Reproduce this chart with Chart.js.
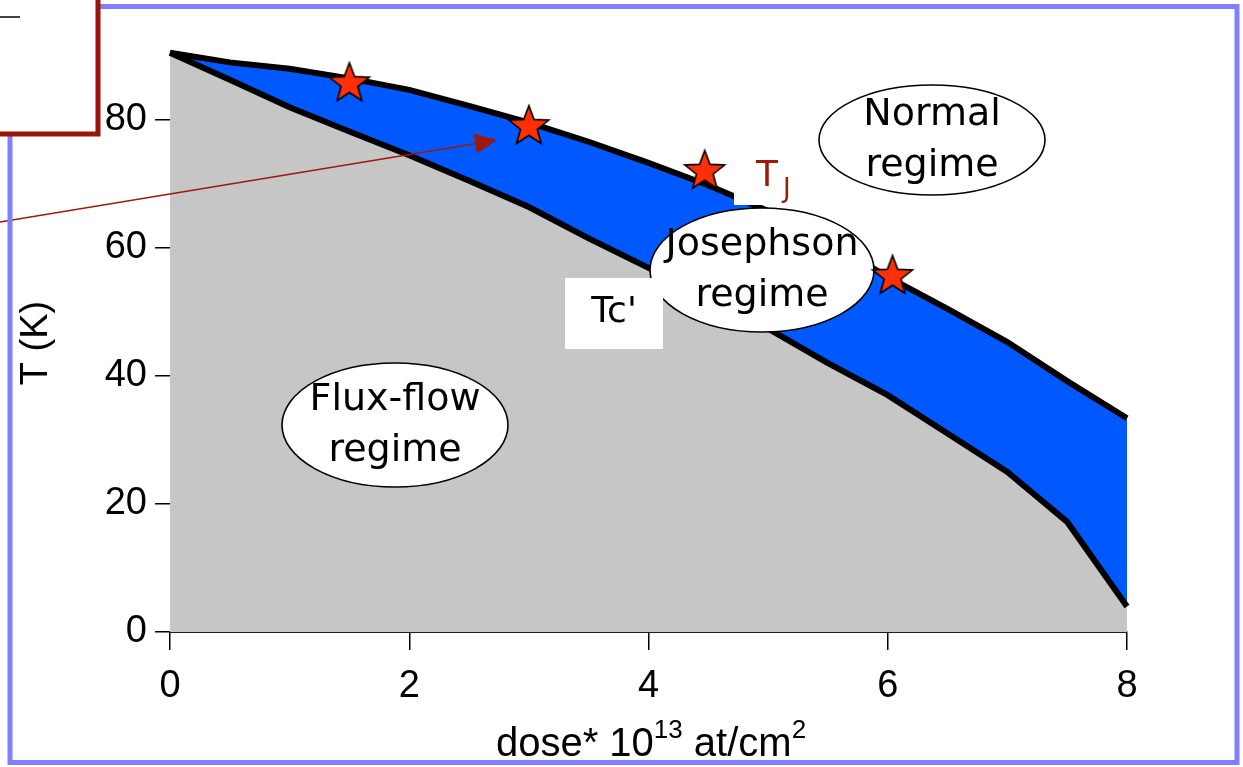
<!DOCTYPE html>
<html>
<head>
<meta charset="utf-8">
<script src="https://cdn.jsdelivr.net/npm/chart.js@4.4.1/dist/chart.umd.min.js"></script>
<style>
  html, body { margin: 0; padding: 0; background: #fff; }
  #wrap { width: 1243px; height: 767px; position: relative; }
</style>
</head>
<body>
<div id="wrap"><canvas id="phaseChart" width="1243" height="767"></canvas></div>
<script>
// dose in units of 10^13 at/cm^2
const dose = [0, 0.5, 1, 1.5, 2, 2.5, 3, 3.5, 4, 4.5, 5, 5.5, 6, 6.5, 7, 7.5, 8];
// T_J : upper boundary (Josephson -> normal)
const tJ = [90.5, 89, 88, 86.5, 84.7, 82.2, 79.6, 76.6, 73.3, 69.8, 65.8, 61, 55.5, 50.5, 45.3, 39.2, 33.4];
// Tc' : lower boundary (flux-flow -> Josephson)
const tcPrime = [90.5, 86.3, 82, 78.2, 74.5, 70.5, 66.4, 61.5, 56.9, 52.2, 47.4, 42, 37, 31, 25, 17.2, 4];
// measured points (stars)
const starDose = [1.5, 3.0, 4.47, 6.04];
const starT = [85.9, 79.2, 72.2, 55.8];

const xTicks = [0, 2, 4, 6, 8];
const yTicks = [0, 20, 40, 60, 80];

const textFont = '"DejaVu Sans", sans-serif';

function makeStar(r) {
    const c = document.createElement('canvas');
    const s = Math.ceil(r * 2 + 4);
    c.width = s; c.height = s;
    const g = c.getContext('2d');
    g.translate(s / 2, s / 2 + 1.5);
    g.beginPath();
    for (let i = 0; i < 10; i++) {
        const rad = i % 2 === 0 ? r : r * 0.42;
        const a = -Math.PI / 2 + i * Math.PI / 5;
        g.lineTo(rad * Math.cos(a), rad * Math.sin(a));
    }
    g.closePath();
    g.fillStyle = '#ff3008';
    g.fill();
    g.lineWidth = 1.6;
    g.strokeStyle = '#000';
    g.stroke();
    return c;
}

function ellipseLabel(ctx, cx, cy, rx, ry, lines) {
    ctx.save();
    ctx.beginPath();
    ctx.ellipse(cx, cy, rx, ry, 0, 0, Math.PI * 2);
    ctx.fillStyle = '#fff';
    ctx.fill();
    ctx.lineWidth = 1.6;
    ctx.strokeStyle = '#000';
    ctx.stroke();
    ctx.fillStyle = '#000';
    ctx.font = '38px ' + textFont;
    ctx.textAlign = 'center';
    ctx.textBaseline = 'middle';
    ctx.fillText(lines[0], cx, cy - 25);
    ctx.fillText(lines[1], cx, cy + 26);
    ctx.restore();
}

const overlayPlugin = {
    id: 'overlay',
    afterDatasetDraw(chart, args) {
        if (args.index !== 0) return;
        const ctx = chart.ctx;
        // white box behind T_J label
        ctx.save();
        ctx.fillStyle = '#fff';
        ctx.fillRect(734, 128, 88, 77);
        ctx.restore();
        ellipseLabel(ctx, 932, 140, 113, 55, ['Normal', 'regime']);
        ellipseLabel(ctx, 762, 270, 112, 62, ['Josephson', 'regime']);
        ellipseLabel(ctx, 395, 425, 113, 62, ['Flux-flow', 'regime']);
        // Tc' label box
        ctx.save();
        ctx.fillStyle = '#fff';
        ctx.fillRect(565, 278, 98, 71);
        ctx.fillStyle = '#000';
        ctx.font = '36px ' + textFont;
        ctx.textAlign = 'center';
        ctx.textBaseline = 'middle';
        ctx.fillText("Tc'", 614, 313);
        // T_J label
        ctx.fillStyle = '#9b1a0a';
        ctx.font = '36px ' + textFont;
        ctx.textAlign = 'left';
        ctx.textBaseline = 'alphabetic';
        ctx.fillText('T', 756, 186);
        ctx.font = '26px ' + textFont;
        ctx.fillText('J', 783, 197);
        ctx.restore();
    },
    afterDraw(chart) {
        const ctx = chart.ctx;
        ctx.save();
        // arrow
        ctx.strokeStyle = '#9b1a0a';
        ctx.fillStyle = '#9b1a0a';
        ctx.lineWidth = 1.6;
        const x0 = 0, y0 = 222, x1 = 497, y1 = 140;
        const ang = Math.atan2(y1 - y0, x1 - x0);
        ctx.beginPath();
        ctx.moveTo(x0, y0);
        ctx.lineTo(x1 - 18 * Math.cos(ang), y1 - 18 * Math.sin(ang));
        ctx.stroke();
        ctx.beginPath();
        ctx.moveTo(x1, y1);
        ctx.lineTo(x1 - 22 * Math.cos(ang) + 10 * Math.sin(ang), y1 - 22 * Math.sin(ang) - 10 * Math.cos(ang));
        ctx.lineTo(x1 - 22 * Math.cos(ang) - 10 * Math.sin(ang), y1 - 22 * Math.sin(ang) + 10 * Math.cos(ang));
        ctx.closePath();
        ctx.fill();

        // outer frame
        ctx.strokeStyle = '#8080ff';
        ctx.lineWidth = 5;
        ctx.strokeRect(10, 6.5, 1227, 756);

        // red box in the corner
        ctx.fillStyle = '#fff';
        ctx.fillRect(-10, -10, 108, 144);
        ctx.strokeStyle = '#9b1408';
        ctx.lineWidth = 5;
        ctx.strokeRect(-10, -10, 108, 144);
        ctx.strokeStyle = '#000';
        ctx.lineWidth = 1.5;
        ctx.beginPath();
        ctx.moveTo(0, 17);
        ctx.lineTo(20, 17);
        ctx.stroke();

        // y axis title
        ctx.fillStyle = '#000';
        ctx.save();
        ctx.translate(37, 343);
        ctx.rotate(-Math.PI / 2);
        ctx.font = '38px "Liberation Sans", sans-serif';
        ctx.textAlign = 'center';
        ctx.textBaseline = 'middle';
        ctx.fillText('T (K)', 0, 0);
        ctx.restore();

        // x axis title with superscripts
        const parts = [
            ['dose* 10', 40, 0],
            ['13', 26, -18],
            [' at/cm', 40, 0],
            ['2', 26, -18]
        ];
        let total = 0;
        parts.forEach(p => {
            ctx.font = p[1] + 'px "Liberation Sans", sans-serif';
            total += ctx.measureText(p[0]).width;
        });
        let x = 651 - total / 2;
        ctx.textAlign = 'left';
        ctx.textBaseline = 'alphabetic';
        parts.forEach(p => {
            ctx.font = p[1] + 'px "Liberation Sans", sans-serif';
            ctx.fillText(p[0], x, 756 + p[2]);
            x += ctx.measureText(p[0]).width;
        });
        ctx.restore();
    }
};

const ctx = document.getElementById('phaseChart').getContext('2d');
new Chart(ctx, {
    type: 'line',
    data: {
        datasets: [{
            label: "Tc'",
            data: dose.map((d, i) => ({ x: d, y: tcPrime[i] })),
            borderColor: '#000',
            borderWidth: 6,
            backgroundColor: '#c6c6c6',
            fill: 'origin',
            pointRadius: 0,
            tension: 0,
            clip: false,
            order: 1
        }, {
            label: 'TJ',
            data: dose.map((d, i) => ({ x: d, y: tJ[i] })),
            borderColor: '#000',
            borderWidth: 6,
            backgroundColor: '#0058ff',
            fill: '-1',
            pointRadius: 0,
            tension: 0,
            clip: false,
            order: 2
        }, {
            label: 'points',
            type: 'scatter',
            data: starDose.map((d, i) => ({ x: d, y: starT[i] })),
            pointStyle: makeStar(21),
            pointRadius: 21,
            showLine: false,
            clip: false,
            order: 0
        }]
    },
    options: {
        responsive: false,
        animation: false,
        layout: { padding: { left: 0, right: 116, top: 49.6, bottom: 0 } },
        plugins: {
            legend: { display: false },
            tooltip: { enabled: false }
        },
        scales: {
            x: {
                type: 'linear',
                min: 0,
                max: 8,
                afterFit: s => { s.height = 135; },
                afterBuildTicks: s => { s.ticks = xTicks.map(v => ({ value: v })); },
                grid: { drawOnChartArea: false, tickLength: 18, color: '#000', lineWidth: 1.5 },
                border: { display: true, color: '#1a1a40', width: 2 },
                ticks: {
                    color: '#000',
                    padding: 14,
                    font: { family: '"Liberation Sans", sans-serif', size: 38 }
                }
            },
            y: {
                min: 0,
                max: 91,
                afterFit: s => { s.width = 170; },
                afterBuildTicks: s => { s.ticks = yTicks.map(v => ({ value: v })); },
                grid: { drawOnChartArea: false, tickLength: 15, color: '#000', lineWidth: 1.5 },
                border: { display: false },
                ticks: {
                    color: '#000',
                    padding: 8,
                    font: { family: '"Liberation Sans", sans-serif', size: 38 }
                }
            }
        }
    },
    plugins: [overlayPlugin]
});
</script>
</body>
</html>
